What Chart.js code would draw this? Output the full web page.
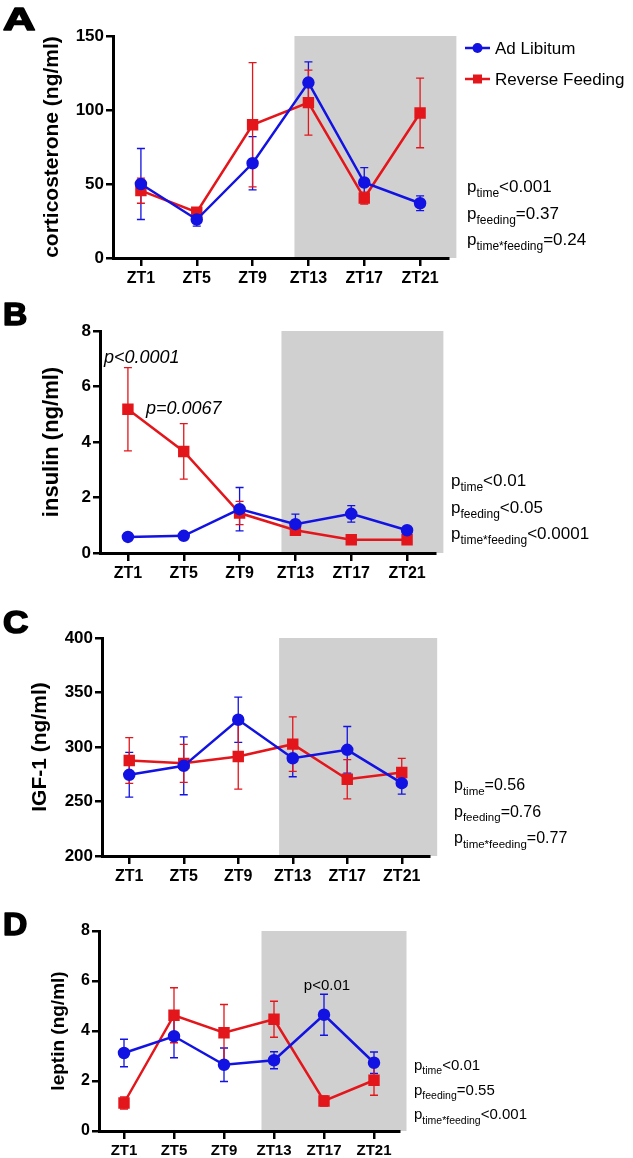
<!DOCTYPE html>
<html>
<head>
<meta charset="utf-8">
<script src="https://cdn.jsdelivr.net/npm/chart.js@4.4.0/dist/chart.umd.min.js"></script>
<style>
  body { margin: 0; background: #fff; }
  #wrap { position: relative; width: 633px; height: 1158px; }
  canvas { position: absolute; left: 0; }
</style>
</head>
<body>
<div id="wrap">
  <canvas id="cA" width="633" height="290" style="top:0"></canvas>
  <canvas id="cB" width="633" height="290" style="top:290px"></canvas>
  <canvas id="cC" width="633" height="308" style="top:580px"></canvas>
  <canvas id="cD" width="633" height="270" style="top:888px"></canvas>
</div>
<script>
const zt = ["ZT1", "ZT5", "ZT9", "ZT13", "ZT17", "ZT21"];
const seriesNames = ["Ad Libitum", "Reverse Feeding"];

// A - corticosterone
const cortAL = [50, 26, 64, 118.5, 51, 37];
const cortALErr = [24, 4.5, 18, 14, 10, 5];
const cortRF = [45.5, 31, 90, 105, 40.5, 98];
const cortRFErr = [8.5, 3, 42, 22, 4, 23.5];
const cortP = [["time", "<0.001"], ["feeding", "=0.37"], ["time*feeding", "=0.24"]];

// B - insulin
const insAL = [0.58, 0.62, 1.58, 1.04, 1.41, 0.82];
const insALErr = [0.04, 0.04, 0.78, 0.36, 0.3, 0.08];
const insRF = [5.18, 3.66, 1.44, 0.82, 0.48, 0.48];
const insRFErr = [1.5, 1.0, 0.42, 0.1, 0.05, 0.05];
const insP = [["time", "<0.01"], ["feeding", "<0.05"], ["time*feeding", "<0.0001"]];

// C - IGF-1
const igfAL = [274.5, 282.7, 325, 289.7, 297.4, 266.8];
const igfALErr = [20.5, 26.5, 20.7, 17, 21.4, 10];
const igfRF = [287.6, 285, 291.3, 302.6, 270.4, 276.6];
const igfRFErr = [21, 17.5, 30, 25, 18, 13];
const igfP = [["time", "=0.56"], ["feeding", "=0.76"], ["time*feeding", "=0.77"]];

// D - leptin
const lepAL = [3.12, 3.79, 2.65, 2.83, 4.65, 2.73];
const lepALErr = [0.55, 0.86, 0.67, 0.34, 0.82, 0.43];
const lepRF = [1.12, 4.63, 3.93, 4.47, 1.2, 2.03];
const lepRFErr = [0.24, 1.1, 1.13, 0.72, 0.2, 0.6];
const lepP = [["time", "<0.01"], ["feeding", "=0.55"], ["time*feeding", "<0.001"]];

const FONT = "'Liberation Sans', Arial, Helvetica, sans-serif";
const BLUE = "#1212e2";
const RED = "#e3161b";
const SHADE = "#d0d0d0";

// per panel extras, keyed by canvas id
const panels = {
  cA: { letter: "A", letterY: 30, letterW: 1.4, shade: [2.75, 5.65], p: cortP, px: 467, py: 192, pdy: 26.5, ps: 17, pss: 12, legend: true, notes: [] },
  cB: { letter: "B", letterY: 35, letterW: 1.05, shade: [2.75, 5.65], p: insP, px: 451, py: 196, pdy: 26.5, ps: 17, pss: 12,
        notes: [{ text: "p<0.0001", x: 104, y: 73, italic: true, size: 18 }, { text: "p=0.0067", x: 146, y: 124, italic: true, size: 18 }] },
  cC: { letter: "C", letterY: 53, letterW: 1.1, shade: [2.75, 5.65], p: igfP, px: 454, py: 210, pdy: 26.5, ps: 16, pss: 11.5, notes: [] },
  cD: { letter: "D", letterY: 47, letterW: 1.05, shade: [2.75, 5.65], p: lepP, px: 414, py: 182, pdy: 24.7, ps: 15, pss: 10.5,
        notes: [{ text: "p<0.01", x: 327, y: 102, italic: false, size: 15, center: true }] }
};

const drawP = (ctx, x, y, sub, rest, size, subSize) => {
  ctx.font = `${size}px ${FONT}`;
  ctx.fillText("p", x, y);
  let w = ctx.measureText("p").width;
  ctx.font = `${subSize}px ${FONT}`;
  ctx.fillText(sub, x + w, y + subSize * 0.42);
  w += ctx.measureText(sub).width;
  ctx.font = `${size}px ${FONT}`;
  ctx.fillText(rest, x + w, y);
};

const panelPlugin = {
  id: "panelExtras",
  beforeDraw(chart) {
    const cfg = panels[chart.canvas.id];
    const { ctx, chartArea: a } = chart;
    const x = chart.scales.x;
    const x0 = x.getPixelForValue(cfg.shade[0]);
    const x1 = x.getPixelForValue(cfg.shade[1]);
    ctx.save();
    ctx.fillStyle = SHADE;
    ctx.fillRect(x0, a.top, x1 - x0, a.bottom - a.top);
    ctx.restore();
  },
  beforeDatasetsDraw(chart) {
    const { ctx } = chart;
    const y = chart.scales.y;
    ctx.save();
    chart.data.datasets.forEach((ds, i) => {
      const meta = chart.getDatasetMeta(i);
      ctx.strokeStyle = ds.borderColor;
      ctx.lineWidth = 1.3;
      ds.data.forEach((v, j) => {
        const px = meta.data[j].x;
        const top = y.getPixelForValue(v + ds.err[j]);
        const bot = y.getPixelForValue(v - ds.err[j]);
        ctx.beginPath();
        ctx.moveTo(px, top); ctx.lineTo(px, bot);
        ctx.moveTo(px - 4, top); ctx.lineTo(px + 4, top);
        ctx.moveTo(px - 4, bot); ctx.lineTo(px + 4, bot);
        ctx.stroke();
      });
    });
    ctx.restore();
  },
  afterDraw(chart) {
    const cfg = panels[chart.canvas.id];
    const { ctx } = chart;
    ctx.save();
    ctx.fillStyle = "#000";
    ctx.textBaseline = "alphabetic";
    ctx.textAlign = "left";
    // heavy panel letter
    ctx.save();
    ctx.translate(3, cfg.letterY);
    ctx.scale(cfg.letterW, 1);
    ctx.font = `bold 32px ${FONT}`;
    ctx.strokeStyle = "#000";
    ctx.lineWidth = 1.6;
    ctx.lineJoin = "round";
    ctx.fillText(cfg.letter, 0, 0);
    ctx.strokeText(cfg.letter, 0, 0);
    ctx.restore();

    cfg.p.forEach((row, k) => {
      drawP(ctx, cfg.px, cfg.py + k * cfg.pdy, row[0], row[1], cfg.ps, cfg.pss);
    });

    cfg.notes.forEach(n => {
      ctx.font = `${n.italic ? "italic " : ""}${n.size}px ${FONT}`;
      ctx.textAlign = n.center ? "center" : "left";
      ctx.fillText(n.text, n.x, n.y);
    });
    ctx.textAlign = "left";

    if (cfg.legend) {
      chart.data.datasets.forEach((ds, i) => {
        const ly = 48 + i * 31;
        ctx.strokeStyle = ds.borderColor;
        ctx.fillStyle = ds.borderColor;
        ctx.lineWidth = 2.5;
        ctx.beginPath();
        ctx.moveTo(465, ly); ctx.lineTo(490, ly);
        ctx.stroke();
        if (ds.pointStyle === "rect") {
          ctx.fillRect(473, ly - 4.5, 9, 9);
        } else {
          ctx.beginPath();
          ctx.arc(477.5, ly, 5, 0, Math.PI * 2);
          ctx.fill();
        }
        ctx.fillStyle = "#000";
        ctx.font = `17px ${FONT}`;
        ctx.fillText(ds.label, 495, ly + 6);
      });
    }
    ctx.restore();
  }
};

const makePanel = (id, al, alErr, rf, rfErr, s) => {
  const lh = s.titleSize * 1.2;
  return new Chart(document.getElementById(id), {
    type: "line",
    data: {
      labels: zt,
      datasets: [
        { label: seriesNames[0], data: al, err: alErr, borderColor: BLUE, backgroundColor: BLUE,
          pointBackgroundColor: BLUE, pointBorderColor: BLUE, pointStyle: "circle", pointRadius: 5, borderWidth: 2.5 },
        { label: seriesNames[1], data: rf, err: rfErr, borderColor: RED, backgroundColor: RED,
          pointBackgroundColor: RED, pointBorderColor: RED, pointStyle: "rect", pointRadius: 6.3, borderWidth: 2.5 }
      ]
    },
    options: {
      responsive: false,
      animation: false,
      layout: { padding: { top: s.top, right: s.right, left: 0, bottom: 0 } },
      plugins: { legend: { display: false }, tooltip: { enabled: false } },
      scales: {
        x: {
          offset: true,
          afterFit: sc => { sc.height = s.xh; },
          ticks: { color: "#000", font: { family: FONT, size: s.xtick, weight: "bold" }, padding: 3, autoSkip: false, maxRotation: 0 },
          grid: { drawOnChartArea: false, color: "#000", lineWidth: 2.5, tickLength: 8 },
          border: { color: "#000", width: 3 }
        },
        y: {
          min: s.min, max: s.max,
          afterFit: sc => { sc.width = s.left; },
          ticks: { stepSize: s.step, color: "#000", font: { family: FONT, size: s.ytick, weight: "bold" }, padding: 2 },
          grid: { drawOnChartArea: false, color: "#000", lineWidth: 2.5, tickLength: 7 },
          border: { color: "#000", width: 3 },
          title: { display: true, text: s.title, color: "#000", font: { family: FONT, size: s.titleSize, weight: "bold" },
                   padding: { top: s.titleX - lh / 2, bottom: 0 } }
        }
      }
    },
    plugins: [panelPlugin]
  });
};

makePanel("cA", cortAL, cortALErr, cortRF, cortRFErr,
  { top: 36, right: 185, left: 113, xh: 32, min: 0, max: 150, step: 50, xtick: 16, ytick: 17, title: "corticosterone (ng/ml)", titleSize: 21, titleX: 52 });
makePanel("cB", insAL, insALErr, insRF, insRFErr,
  { top: 41, right: 198, left: 100, xh: 27, min: 0, max: 8, step: 2, xtick: 16, ytick: 17, title: "insulin (ng/ml)", titleSize: 22, titleX: 52 });
makePanel("cC", igfAL, igfALErr, igfRF, igfRFErr,
  { top: 58, right: 204, left: 102, xh: 32, min: 200, max: 400, step: 50, xtick: 16, ytick: 17, title: "IGF-1 (ng/ml)", titleSize: 21, titleX: 40 });
makePanel("cD", lepAL, lepALErr, lepRF, lepRFErr,
  { top: 43, right: 234, left: 99, xh: 27, min: 0, max: 8, step: 2, xtick: 15, ytick: 16, title: "leptin (ng/ml)", titleSize: 19, titleX: 59 });
</script>
</body>
</html>
